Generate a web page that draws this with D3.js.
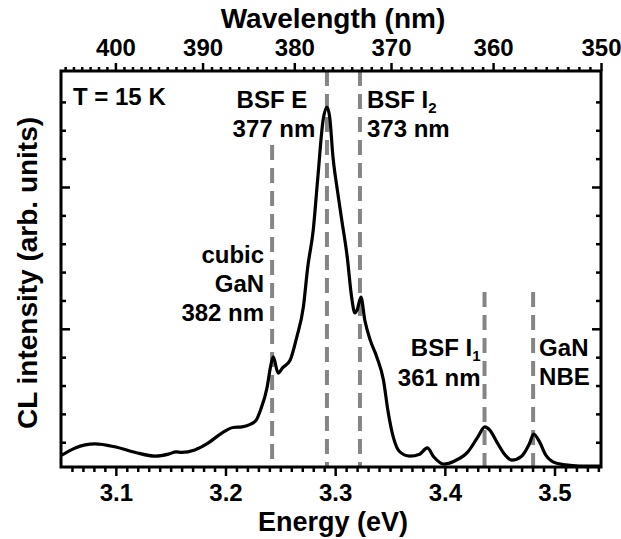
<!DOCTYPE html>
<html><head><meta charset="utf-8">
<script src="https://cdn.jsdelivr.net/npm/d3@7"></script>
<style>
html,body{margin:0;padding:0;background:#fff;}
text{font-family:"Liberation Sans",Arial,Helvetica,sans-serif;font-weight:bold;fill:#000;}
</style></head>
<body>
<svg id="chart" width="621" height="539"></svg>
<script>
// ---- data ----
const energy = [3.051,3.063,3.081,3.099,3.118,3.136,3.148,3.155,3.160,3.172,3.184,3.197,3.207,3.215,3.222,3.228,3.232,3.238,3.241,3.2435,3.248,3.252,3.259,3.265,3.271,3.275,3.280,3.284,3.289,3.2925,3.295,3.298,3.302,3.306,3.311,3.315,3.318,3.320,3.3235,3.327,3.332,3.338,3.344,3.348,3.353,3.359,3.368,3.377,3.384,3.390,3.399,3.409,3.421,3.430,3.4365,3.441,3.448,3.455,3.461,3.470,3.477,3.481,3.486,3.492,3.499,3.510,3.523,3.5415];
const intensity = [0.55,0.80,0.94,0.84,0.64,0.51,0.58,0.66,0.64,0.73,0.97,1.33,1.52,1.54,1.62,1.78,2.14,2.95,3.65,4.01,3.44,3.62,3.90,4.71,5.77,7.18,8.48,10.25,12.36,12.82,12.47,11.06,9.89,8.84,7.53,6.12,5.56,5.66,6.12,5.31,4.60,4.00,3.20,2.14,1.18,0.66,0.51,0.58,0.80,0.48,0.23,0.34,0.66,1.18,1.54,1.43,0.97,0.55,0.37,0.51,0.94,1.29,1.04,0.55,0.30,0.20,0.16,0.16];

const markerEnergy = [3.2425, 3.2925, 3.3226, 3.4362, 3.4805];
const markerTop    = [11.48, 14.09, 14.09, 6.30, 6.30];   // intensity where each dashed line starts

const energyMajor = [3.1, 3.2, 3.3, 3.4, 3.5];
const energyMinor = d3.range(306, 355).map(v => v / 100);
const wavelengthMajor = [400, 390, 380, 370, 360, 350];
const wavelengthMinor = d3.range(350, 407);
const intensityMajor = [5, 10];
const intensityMinor = d3.range(1, 14);

const HC = 1239.84; // eV*nm

// ---- layout ----
const L = 61, R = 601, T = 71, B = 467;
const svg = d3.select("#chart");
const x = d3.scaleLinear().domain([3.05, 3.5424]).range([L, R]);
const y = d3.scaleLinear().domain([0.127, 14.09]).range([B, T]);

svg.append("defs").append("clipPath").attr("id","clip")
  .append("rect").attr("x",L).attr("y",T).attr("width",R-L).attr("height",B-T);

// dashed marker lines
svg.append("g").attr("clip-path","url(#clip)").selectAll("line").data(markerEnergy).join("line")
  .attr("x1", d => x(d)).attr("x2", d => x(d))
  .attr("y1", (d,i) => y(markerTop[i])).attr("y2", B)
  .attr("stroke","#858585").attr("stroke-width",4).attr("stroke-dasharray","15,8");

// spectrum
const pts = energy.map((e,i) => [e, intensity[i]]);
const line = d3.line().x(d => x(d[0])).y(d => y(d[1])).curve(d3.curveMonotoneX);
svg.append("path").attr("clip-path","url(#clip)").datum(pts).attr("d", line)
  .attr("fill","none").attr("stroke","#000").attr("stroke-width",3.2)
  .attr("stroke-linejoin","round").attr("stroke-linecap","round");

function styleAxis(g){
  g.select(".domain").remove();
  g.selectAll(".tick line").attr("stroke","#000").attr("stroke-width",2.5);
  g.selectAll("text").style("font-size","24px").style("font-family",'"Liberation Sans",Arial,sans-serif').style("font-weight","bold").attr("fill","#000");
}

// bottom axis
svg.append("g").attr("transform",`translate(0,${B})`)
  .call(d3.axisBottom(x).tickValues(energyMinor.filter(v => !energyMajor.some(m => Math.abs(m-v)<1e-6))).tickSize(5).tickFormat(""))
  .call(styleAxis);
const bx = svg.append("g").attr("transform",`translate(0,${B})`)
  .call(d3.axisBottom(x).tickValues(energyMajor).tickSize(9).tickFormat(d3.format(".1f")))
  .call(styleAxis);
bx.selectAll("text").attr("y",34).attr("dy",0);

// top axis (wavelength)
svg.append("g").attr("transform",`translate(0,${T})`)
  .call(d3.axisTop(x).tickValues(wavelengthMinor.filter(w => w % 10 !== 0).map(w => HC/w).filter(e => e >= 3.05)).tickSize(4).tickFormat(""))
  .call(styleAxis);
const tx = svg.append("g").attr("transform",`translate(0,${T})`)
  .call(d3.axisTop(x).tickValues(wavelengthMajor.map(w => HC/w)).tickSize(8).tickFormat(e => Math.round(HC/e)))
  .call(styleAxis);
tx.selectAll("text").attr("y",-15).attr("dy",0);

// left & right axes (inward ticks)
const yMinorOnly = intensityMinor.filter(v => !intensityMajor.includes(v));
svg.append("g").attr("transform",`translate(${L},0)`)
  .call(d3.axisLeft(y).tickValues(yMinorOnly).tickSize(-5).tickFormat("")).call(styleAxis);
svg.append("g").attr("transform",`translate(${L},0)`)
  .call(d3.axisLeft(y).tickValues(intensityMajor).tickSize(-9).tickFormat("")).call(styleAxis);
svg.append("g").attr("transform",`translate(${R},0)`)
  .call(d3.axisRight(y).tickValues(yMinorOnly).tickSize(-5).tickFormat("")).call(styleAxis);
svg.append("g").attr("transform",`translate(${R},0)`)
  .call(d3.axisRight(y).tickValues(intensityMajor).tickSize(-9).tickFormat("")).call(styleAxis);

// frame
svg.append("rect").attr("x",L).attr("y",T).attr("width",R-L).attr("height",B-T)
  .attr("fill","none").attr("stroke","#000").attr("stroke-width",3);

// titles
svg.append("text").attr("x",(L+R)/2+2).attr("y",28).attr("text-anchor","middle").style("font-size","28px").text("Wavelength (nm)");
svg.append("text").attr("x",(L+R)/2+2).attr("y",531).attr("text-anchor","middle").style("font-size","27px").text("Energy (eV)");
svg.append("text").attr("transform",`translate(37,${(T+B)/2+4}) rotate(-90)`).attr("text-anchor","middle").style("font-size","28px").text("CL intensity (arb. units)");

// annotations
const fs = "24px";
function label(xp, yp, anchor, parts){
  const t = svg.append("text").attr("x",xp).attr("y",yp).attr("text-anchor",anchor).style("font-size",fs);
  parts.forEach(p => {
    if (typeof p === "string") t.append("tspan").text(p);
    else t.append("tspan").attr("dy",p.dy).style("font-size",p.size).text(p.t);
  });
  return t;
}
label(73, 105, "start", ["T = 15 K"]);
label(x(markerEnergy[1]) - 55, 108, "middle", ["BSF E"]);
label(x(markerEnergy[1]) - 53, 137, "middle", ["377 nm"]);
label(x(markerEnergy[2]) + 7, 108, "start", ["BSF I", {t:"2", dy:5, size:"15px"}]);
label(x(markerEnergy[2]) + 7, 137, "start", ["373 nm"]);
label(x(markerEnergy[0]) - 8, 263, "end", ["cubic"]);
label(x(markerEnergy[0]) - 8, 292, "end", ["GaN"]);
label(x(markerEnergy[0]) - 8, 321, "end", ["382 nm"]);
label(x(markerEnergy[3]) - 4, 356, "end", ["BSF I", {t:"1", dy:5, size:"15px"}]);
label(x(markerEnergy[3]) - 4, 386, "end", ["361 nm"]);
label(x(markerEnergy[4]) + 6, 356, "start", ["GaN"]);
label(x(markerEnergy[4]) + 6, 385, "start", ["NBE"]);
</script>
</body></html>
